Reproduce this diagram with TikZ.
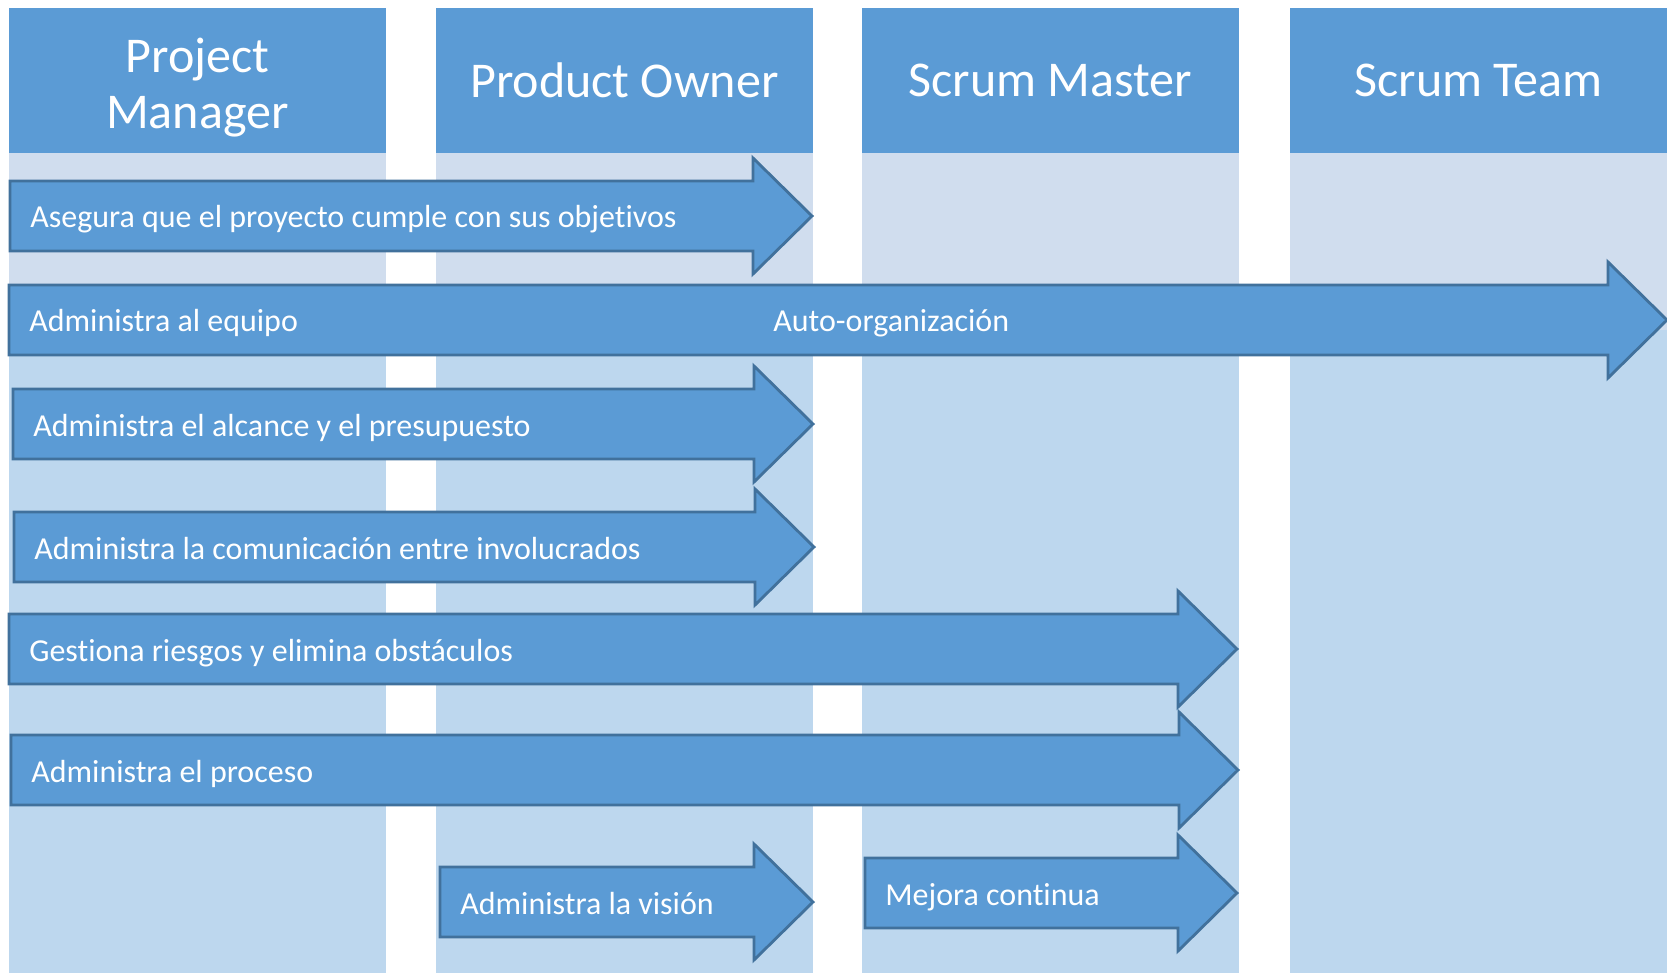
\documentclass[tikz,border=0pt]{standalone}
\usepackage{fontspec}
\setmainfont[RawFeature={-liga;-clig;-dlig;-calt}]{Carlito}
\usetikzlibrary{positioning}
\definecolor{azul}{HTML}{5B9BD5}
\definecolor{azulborde}{HTML}{41719C}
\definecolor{claro}{HTML}{D0DDEE}
\definecolor{medio}{HTML}{BDD7EE}

% arrow: name, left x, tip x, centre y, text
\newcommand{\flecha}[5]{%
  \draw[flechaborde] (#2,#4-35) -- (#3-59,#4-35) -- (#3-59,#4-58) -- (#3,#4)
    -- (#3-59,#4+58) -- (#3-59,#4+35) -- (#2,#4+35) -- cycle;
  \node[etiqueta, anchor=base west] (#1) at (#2+20,#4+12) {#5};
}

\begin{document}
\begin{tikzpicture}[
        x=0.02cm, y=-0.02cm,
        cabecera/.style={fill=azul, inner sep=0pt, outer sep=0pt,
            minimum width=7.54cm, minimum height=2.9cm},
        titulo/.style={text=white, inner sep=0pt, align=center,
            font=\fontsize{28.5}{32}\selectfont},
        flechaborde/.style={fill=azul, draw=azulborde, line width=1.6pt, line join=miter},
        etiqueta/.style={text=white, inner sep=0pt, font=\fontsize{18.2}{21}\selectfont},
    ]
        \useasboundingbox (0,0) rectangle (1667,973);

        % columns
        \foreach \x/\nombre/\texto/\dy in {9/pm/{Project\\Manager}/4,
                436/po/{Product Owner}/0, 862/sm/{Scrum Master}/0, 1290/st/{Scrum Team}/0} {
            \fill[claro] (\x,153) rectangle ++(377,177);
            \fill[medio] (\x,330) rectangle ++(377,643);
            \node[cabecera, anchor=north west] (\nombre) at (\x,8) {};
            \node[titulo] (\nombre-t) at ([yshift=-\dy pt]\nombre.center) {\texto};
        }

        % responsibilities
        \flecha{asegura}{10}{812}{216}{Asegura que el proyecto cumple con sus objetivos}
        \flecha{equipo}{9}{1667}{320}{Administra al equipo}
        \node[etiqueta, anchor=base west] (auto) at (773,332) {Auto-organización};
        \flecha{alcance}{13}{813}{424}{Administra el alcance y el presupuesto}
        \flecha{comunicacion}{14}{814}{547}{Administra la comunicación entre involucrados}
        \flecha{riesgos}{9}{1237}{649}{Gestiona riesgos y elimina obstáculos}
        \flecha{proceso}{11}{1238}{770}{Administra el proceso}
        \flecha{vision}{440}{813}{902}{Administra la visión}
        \flecha{mejora}{865}{1237}{893}{Mejora continua}
\end{tikzpicture}
\end{document}
